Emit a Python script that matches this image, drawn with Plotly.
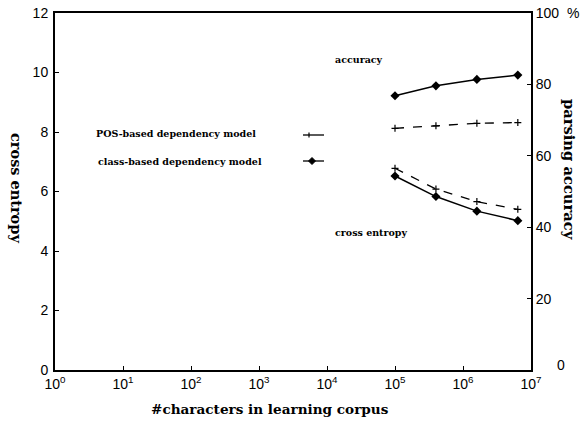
import plotly.graph_objects as go

# ---- data ----
corpus_chars = [1e5, 4e5, 1.6e6, 6.4e6]
ce_pos = [6.78, 6.08, 5.66, 5.40]
ce_class = [6.52, 5.83, 5.34, 5.02]
acc_pos = [67.7, 68.4, 69.1, 69.3]
acc_class = [76.8, 79.6, 81.4, 82.6]

x_tickvals = [1, 10, 100, 1e3, 1e4, 1e5, 1e6, 1e7]
x_ticktext = ["10<sup>%d</sup>" % i for i in range(8)]
y1_ticks = [0, 2, 4, 6, 8, 10, 12]
y2_ticks = [0, 20, 40, 60, 80, 100]
y2_ticktext = ["", "20", "40", "60", "80", "100\u00a0\u00a0%"]
y2_zero_label = "0"

W, H = 586, 421
L, R, T, B = 55, 55, 13, 51
pw, ph = W - L - R, H - T - B

def px(x):
    return (x - L) / pw

def py(y):
    return (H - B - y) / ph

fig = go.Figure()
fig.add_trace(go.Scatter(x=corpus_chars, y=ce_pos, mode="lines+markers",
                         line=dict(color="black", width=1.3, dash="dash"),
                         marker=dict(symbol="cross-thin", size=5, line=dict(color="black", width=1.2)),
                         showlegend=False))
fig.add_trace(go.Scatter(x=corpus_chars, y=ce_class, mode="lines+markers",
                         line=dict(color="black", width=1.5),
                         marker=dict(symbol="diamond", size=7, color="black"),
                         showlegend=False))
fig.add_trace(go.Scatter(x=corpus_chars, y=acc_pos, mode="lines+markers", yaxis="y2",
                         line=dict(color="black", width=1.3, dash="dash"),
                         marker=dict(symbol="cross-thin", size=5, line=dict(color="black", width=1.2)),
                         showlegend=False))
fig.add_trace(go.Scatter(x=corpus_chars, y=acc_class, mode="lines+markers", yaxis="y2",
                         line=dict(color="black", width=1.5),
                         marker=dict(symbol="diamond", size=7, color="black"),
                         showlegend=False))

tickfont = dict(family="Liberation Sans", size=14, color="black")
serif = "DejaVu Serif"

fig.update_layout(
    width=W, height=H,
    margin=dict(l=L, r=R, t=T, b=B, autoexpand=False),
    paper_bgcolor="white", plot_bgcolor="white",
    xaxis=dict(type="log", range=[0, 7], tickvals=x_tickvals, ticktext=x_ticktext,
               ticks="inside", ticklen=4, tickcolor="black", showgrid=False, zeroline=False,
               showline=True, linecolor="black", linewidth=1.5, mirror=True,
               tickfont=tickfont, automargin=False),
    yaxis=dict(range=[0, 12], tickvals=y1_ticks, ticks="inside", ticklen=4, tickcolor="black",
               showgrid=False, zeroline=False, showline=True, linecolor="black", linewidth=2,
               tickfont=tickfont, ticklabelstandoff=2, automargin=False),
    yaxis2=dict(range=[0, 100], tickvals=y2_ticks, ticktext=y2_ticktext, overlaying="y",
                side="right", ticks="inside", ticklen=4, tickcolor="black",
                showgrid=False, zeroline=False, showline=True, linecolor="black", linewidth=2,
                tickfont=tickfont, automargin=False),
)

fig.add_annotation(text=y2_zero_label, x=px(561), y=py(365), xref="paper", yref="paper",
                   xanchor="center", yanchor="middle", showarrow=False, font=tickfont)

anns = [
    dict(text="<b>#characters in learning corpus</b>", x=px(270), y=py(409), size=13.6),
    dict(text="<b>cross entropy</b>", x=px(17), y=py(188), size=14.5, angle=90),
    dict(text="<b>parsing accuracy</b>", x=px(570), y=py(169), size=14.7, angle=90),
    dict(text="<b>accuracy</b>", x=px(359), y=py(60), size=9.5),
    dict(text="<b>cross entropy</b>", x=px(371), y=py(232), size=9.5),
    dict(text="<b>POS-based dependency model</b>", x=px(176), y=py(133), size=9.5),
    dict(text="<b>class-based dependency model</b>", x=px(180), y=py(161), size=9.5),
]
for a in anns:
    fig.add_annotation(text=a["text"], x=a["x"], y=a["y"], xref="paper", yref="paper",
                       xanchor="center", yanchor="middle",
                       showarrow=False, textangle=a.get("angle", 0),
                       font=dict(family=serif, size=a["size"], color="black"))

# legend samples
for yy in (135, 161):
    fig.add_shape(type="line", xref="paper", yref="paper", x0=px(303), x1=px(324),
                  y0=py(yy), y1=py(yy), line=dict(color="black", width=1.3))
# plus sign
fig.add_shape(type="line", xref="paper", yref="paper", x0=px(309), x1=px(309),
              y0=py(132.5), y1=py(137.5), line=dict(color="black", width=1.2))
# diamond
cx, cy, d = 312, 161, 3.5
path = "M %f %f L %f %f L %f %f L %f %f Z" % (
    px(cx - d), py(cy), px(cx), py(cy - d), px(cx + d), py(cy), px(cx), py(cy + d))
fig.add_shape(type="path", xref="paper", yref="paper", path=path,
              fillcolor="black", line=dict(color="black", width=1))

fig.write_html("out.html", config={"displayModeBar": False},
               post_script="document.body.style.margin='0';document.body.style.overflow='hidden';")
